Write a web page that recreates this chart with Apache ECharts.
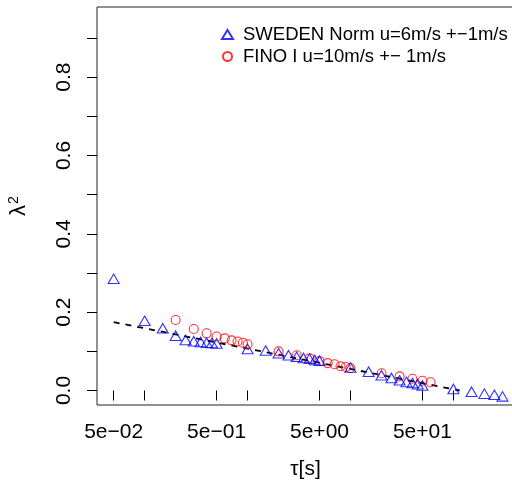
<!DOCTYPE html>
<html>
<head>
<meta charset="utf-8">
<script src="https://cdn.jsdelivr.net/npm/echarts@6/dist/echarts.min.js"></script>
<style>
  html, body { margin: 0; padding: 0; background: #fff; }
  #chart { width: 512px; height: 484px; }
</style>
</head>
<body>
<div id="chart"></div>
<script>
// lambda^2 gegen tau, log-x
var swedenTau = [0.05, 0.1, 0.15, 0.2, 0.25, 0.3, 0.35, 0.4, 0.45, 0.5,
                 1, 1.5, 2, 2.5, 3, 3.5, 4, 4.5, 5,
                 10, 15, 20, 25, 30, 35, 40, 45, 50,
                 100, 150, 200, 250, 300];
var swedenLambda = [0.285, 0.178, 0.159, 0.140, 0.129, 0.126, 0.124, 0.122, 0.121, 0.120,
                    0.106, 0.102, 0.095, 0.090, 0.086, 0.083, 0.081, 0.078, 0.076,
                    0.059, 0.048, 0.039, 0.032, 0.026, 0.022, 0.019, 0.016, 0.013,
                    0.004, -0.003, -0.008, -0.011, -0.015];

var finoTau = [0.2, 0.3, 0.4, 0.5, 0.6, 0.7, 0.8, 0.9, 1,
               2, 3, 4, 5, 6, 7, 8, 9, 10,
               20, 30, 40, 50, 60];
var finoLambda = [0.180, 0.157, 0.146, 0.138, 0.133, 0.128, 0.125, 0.122, 0.118,
                  0.100, 0.090, 0.082, 0.075, 0.070, 0.067, 0.062, 0.060, 0.057,
                  0.044, 0.036, 0.030, 0.025, 0.021];

// Fitgerade (Endpunkte)
var fitTau = [0.05, 115];
var fitLambda = [0.1745, 0.0];

var xTicks = [0.05, 0.1, 0.5, 1, 5, 10, 50, 100];
var xLabels = [0.05, 0.5, 5, 50];
var yTicks = [0, 0.1, 0.2, 0.3, 0.4, 0.5, 0.6, 0.7, 0.8, 0.9];
var yLabels = [0, 0.2, 0.4, 0.6, 0.8];

function pairs(xs, ys) {
    return xs.map(function (x, i) { return [x, ys[i]]; });
}

function sciLabel(v) {
    var e = Math.floor(Math.log10(v) + 1e-9);
    var m = Math.round(v / Math.pow(10, e));
    var s = Math.abs(e) < 10 ? '0' + Math.abs(e) : '' + Math.abs(e);
    return m + 'e' + (e < 0 ? '\u2212' : '+') + s;
}

var FONT = 'Liberation Sans, Arial, Helvetica, sans-serif';

var myChart = echarts.init(document.getElementById('chart'));

var option = {
    animation: false,
    textStyle: { fontFamily: FONT },
    grid: {
        left: 97,
        top: 7,
        right: -2,
        bottom: 79,
        outerBoundsMode: 'none',
        containLabel: false,
        show: true,
        borderColor: '#222',
        borderWidth: 1
    },
    legend: {
        orient: 'vertical',
        left: 216,
        top: 20,
        itemWidth: 11,
        itemHeight: 9,
        itemGap: 3,
        textStyle: { fontFamily: FONT, fontSize: 18.5, color: '#000', padding: [0, 0, 0, 5] },
        data: ['SWEDEN Norm u=6m/s +\u22121m/s', 'FINO I u=10m/s +\u2212 1m/s']
    },
    xAxis: {
        type: 'log',
        logBase: 10,
        min: 0.03444,
        max: 388,
        name: '\u03c4[s]',
        nameLocation: 'middle',
        nameGap: 54,
        nameTextStyle: { fontFamily: FONT, fontSize: 21, color: '#000' },
        axisLine: { show: false },
        splitLine: { show: false },
        minorTick: { show: false },
        axisTick: {
            show: true,
            length: 10,
            customValues: xTicks,
            lineStyle: { color: '#000', width: 1 }
        },
        axisLabel: {
            customValues: xLabels,
            margin: 17,
            fontSize: 21,
            color: '#000',
            fontFamily: FONT,
            formatter: function (v) { return sciLabel(v); }
        }
    },
    yAxis: {
        type: 'value',
        min: -0.037,
        max: 0.979,
        name: '{l|\u03bb}{s|2}',
        nameLocation: 'middle',
        nameGap: 66,
        nameRotate: 90,
        nameTextStyle: {
            fontFamily: FONT, fontSize: 21, color: '#000',
            rich: {
                l: { fontFamily: FONT, fontSize: 22, color: '#000' },
                s: { fontFamily: FONT, fontSize: 14, color: '#000', verticalAlign: 'top', padding: [0, 0, 10, 1] }
            }
        },
        axisLine: { show: false },
        splitLine: { show: false },
        axisTick: {
            show: true,
            length: 10,
            customValues: yTicks,
            lineStyle: { color: '#000', width: 1 }
        },
        axisLabel: {
            customValues: yLabels,
            rotate: 90,
            margin: 22,
            fontSize: 21,
            color: '#000',
            fontFamily: FONT,
            formatter: function (v) { return v.toFixed(1); }
        }
    },
    series: [
        {
            name: 'fit',
            type: 'line',
            data: pairs(fitTau, fitLambda),
            showSymbol: false,
            symbol: 'none',
            lineStyle: { color: '#000', width: 1.8, type: [6, 6] },
            z: 1
        },
        {
            name: 'SWEDEN Norm u=6m/s +\u22121m/s',
            type: 'scatter',
            symbol: 'triangle',
            symbolSize: [11, 9.5],
            data: pairs(swedenTau, swedenLambda),
            itemStyle: { color: 'rgba(0,0,0,0)', borderColor: '#0000ff', borderWidth: 1.1 },
            z: 3
        },
        {
            name: 'FINO I u=10m/s +\u2212 1m/s',
            type: 'scatter',
            symbol: 'circle',
            symbolSize: 9,
            data: pairs(finoTau, finoLambda),
            itemStyle: { color: 'rgba(0,0,0,0)', borderColor: '#ff0000', borderWidth: 1.1 },
            z: 2
        }
    ]
};

myChart.setOption(option);
</script>
</body>
</html>
